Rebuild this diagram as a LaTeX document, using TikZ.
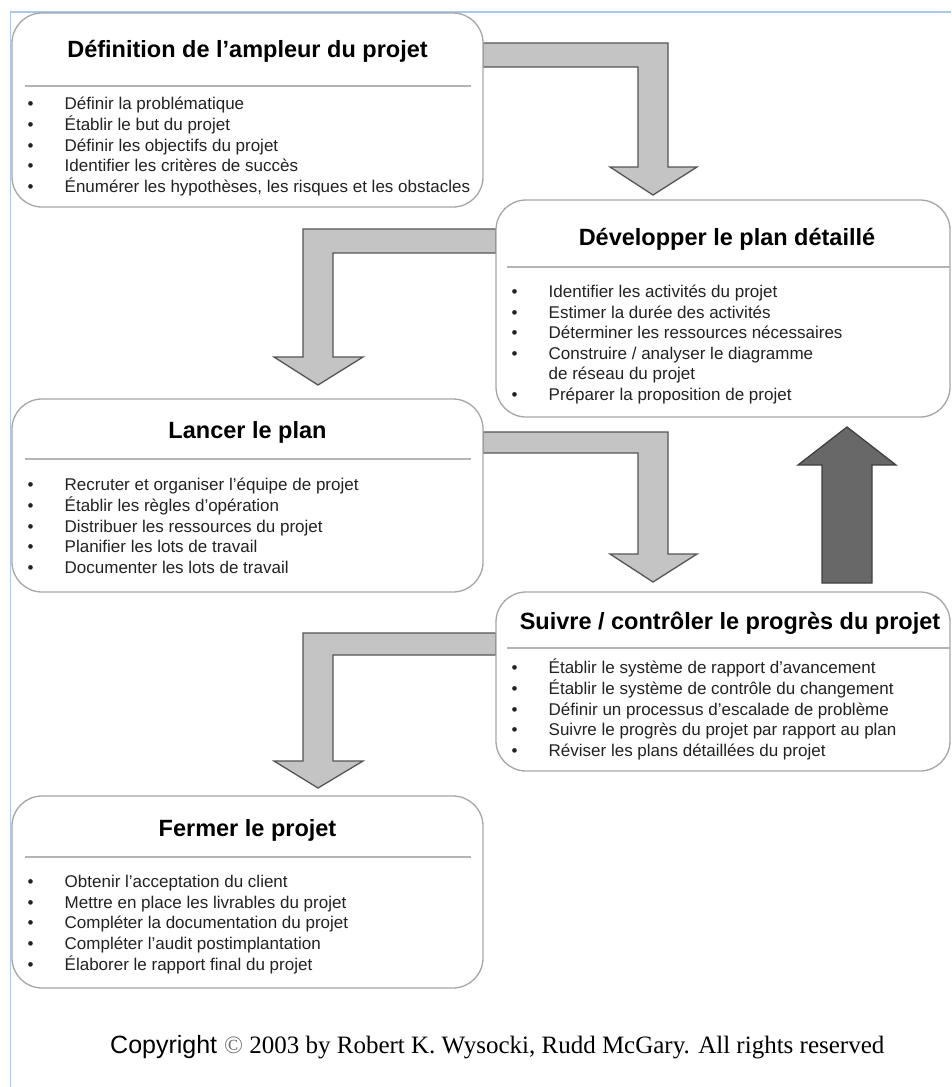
\documentclass[tikz,border=0pt]{standalone}
\usepackage{fontspec}
\setmainfont{Liberation Sans}
\newfontfamily\timesfont{Liberation Serif}
\usepackage{array}

\definecolor{framblue}{HTML}{A9C8EE}
\definecolor{boxgray}{HTML}{A6A6A6}
\definecolor{sepgray}{HTML}{B4B4B4}
\definecolor{arrowfill}{HTML}{C4C4C4}
\definecolor{arrowedge}{HTML}{555555}
\definecolor{darkfill}{HTML}{686868}
\definecolor{darkedge}{HTML}{404040}
\definecolor{itemtext}{HTML}{222222}

\begin{document}
\begin{tikzpicture}[x=1pt,y=-1pt,
  stage/.style={draw=boxgray, line width=1.3pt, rounded corners=30pt, fill=white, inner sep=0pt, rectangle},
  sepline/.style={draw=sepgray, line width=1.8pt},
  title/.style={anchor=base, inner sep=0pt, font=\fontsize{23.5}{28}\selectfont\bfseries},
  items/.style={anchor=base west, inner sep=0pt, text=itemtext, font=\fontsize{17}{20.6}\selectfont},
  flow/.style={fill=arrowfill, draw=arrowedge, line width=1.3pt, line join=miter},
  back/.style={fill=darkfill, draw=darkedge, line width=1.3pt, line join=miter},
]
\useasboundingbox (0,0) rectangle (951,1087);

% page frame
\draw[framblue, line width=1.6pt] (951,12) -- (10.5,12) -- (10.5,1087);

% block arrows between the stages
\draw[flow] (483,43) -- (668,43) -- (668,167) -- (697,167) -- (653,195) -- (610,167)
  -- (638,167) -- (638,67) -- (483,67) -- cycle;
\draw[flow] (496,229) -- (303,229) -- (303,357) -- (274,357) -- (318,385) -- (363,357)
  -- (333,357) -- (333,253) -- (496,253) -- cycle;
\draw[flow] (483,432) -- (668,432) -- (668,554) -- (697,554) -- (653,582) -- (610,554)
  -- (638,554) -- (638,453) -- (483,453) -- cycle;
\draw[flow] (496,633) -- (303,633) -- (303,761) -- (274,761) -- (318,788) -- (363,761)
  -- (333,761) -- (333,655) -- (496,655) -- cycle;
% feedback arrow
\draw[back] (822,583) -- (872,583) -- (872,465) -- (896,465) -- (847,427) -- (798,465)
  -- (822,465) -- cycle;

% stage boxes
\node[stage, minimum width=471pt, minimum height=194pt] (b1) at (247.5,110) {};
\node[stage, minimum width=454pt, minimum height=217pt] (b2) at (723,308.5) {};
\node[stage, minimum width=471pt, minimum height=193pt] (b3) at (247.5,495.5) {};
\node[stage, minimum width=454pt, minimum height=179pt] (b4) at (723,681.5) {};
\node[stage, minimum width=471pt, minimum height=192pt] (b5) at (247.5,892) {};

% stage 1
\node[title] (t1) at (247.5,57) {Définition de l’ampleur du projet};
\draw[sepline] (25,86) -- (471,86);
\node[items] (l1) at (27.5,109.5) {\begin{tabular}[t]{@{}p{37pt}@{}l@{}}
\textbullet & Définir la problématique\\
\textbullet & Établir le but du projet\\
\textbullet & Définir les objectifs du projet\\
\textbullet & Identifier les critères de succès\\
\textbullet & Énumérer les hypothèses, les risques et les obstacles
\end{tabular}};

% stage 2
\node[title] (t2) at (727,245) {Développer le plan détaillé};
\draw[sepline] (507,267) -- (950,267);
\node[items] (l2) at (511.5,297.5) {\begin{tabular}[t]{@{}p{37pt}@{}l@{}}
\textbullet & Identifier les activités du projet\\
\textbullet & Estimer la durée des activités\\
\textbullet & Déterminer les ressources nécessaires\\
\textbullet & Construire / analyser le diagramme\\
 & de réseau du projet\\
\textbullet & Préparer la proposition de projet
\end{tabular}};

% stage 3
\node[title] (t3) at (247.5,438) {Lancer le plan};
\draw[sepline] (25,459) -- (471,459);
\node[items] (l3) at (27.5,490.5) {\begin{tabular}[t]{@{}p{37pt}@{}l@{}}
\textbullet & Recruter et organiser l’équipe de projet\\
\textbullet & Établir les règles d’opération\\
\textbullet & Distribuer les ressources du projet\\
\textbullet & Planifier les lots de travail\\
\textbullet & Documenter les lots de travail
\end{tabular}};

% stage 4
\node[title] (t4) at (730,629) {Suivre / contrôler le progrès du projet};
\draw[sepline] (507,648) -- (950,648);
\node[items] (l4) at (511.5,673.5) {\begin{tabular}[t]{@{}p{37pt}@{}l@{}}
\textbullet & Établir le système de rapport d’avancement\\
\textbullet & Établir le système de contrôle du changement\\
\textbullet & Définir un processus d’escalade de problème\\
\textbullet & Suivre le progrès du projet par rapport au plan\\
\textbullet & Réviser les plans détaillées du projet
\end{tabular}};

% stage 5
\node[title] (t5) at (247.5,836) {Fermer le projet};
\draw[sepline] (25,857) -- (471,857);
\node[items] (l5) at (27.5,887.5) {\begin{tabular}[t]{@{}p{37pt}@{}l@{}}
\textbullet & Obtenir l’acceptation du client\\
\textbullet & Mettre en place les livrables du projet\\
\textbullet & Compléter la documentation du projet\\
\textbullet & Compléter l’audit postimplantation\\
\textbullet & Élaborer le rapport final du projet
\end{tabular}};

% credit line
\node[anchor=base west, inner sep=0pt, font=\fontsize{25}{30}\selectfont] (copy) at (110,1053)
  {Copyright {\timesfont\textcolor{black!55}{©} 2003 by Robert K. Wysocki, Rudd McGary. All rights reserved}};
\end{tikzpicture}
\end{document}
